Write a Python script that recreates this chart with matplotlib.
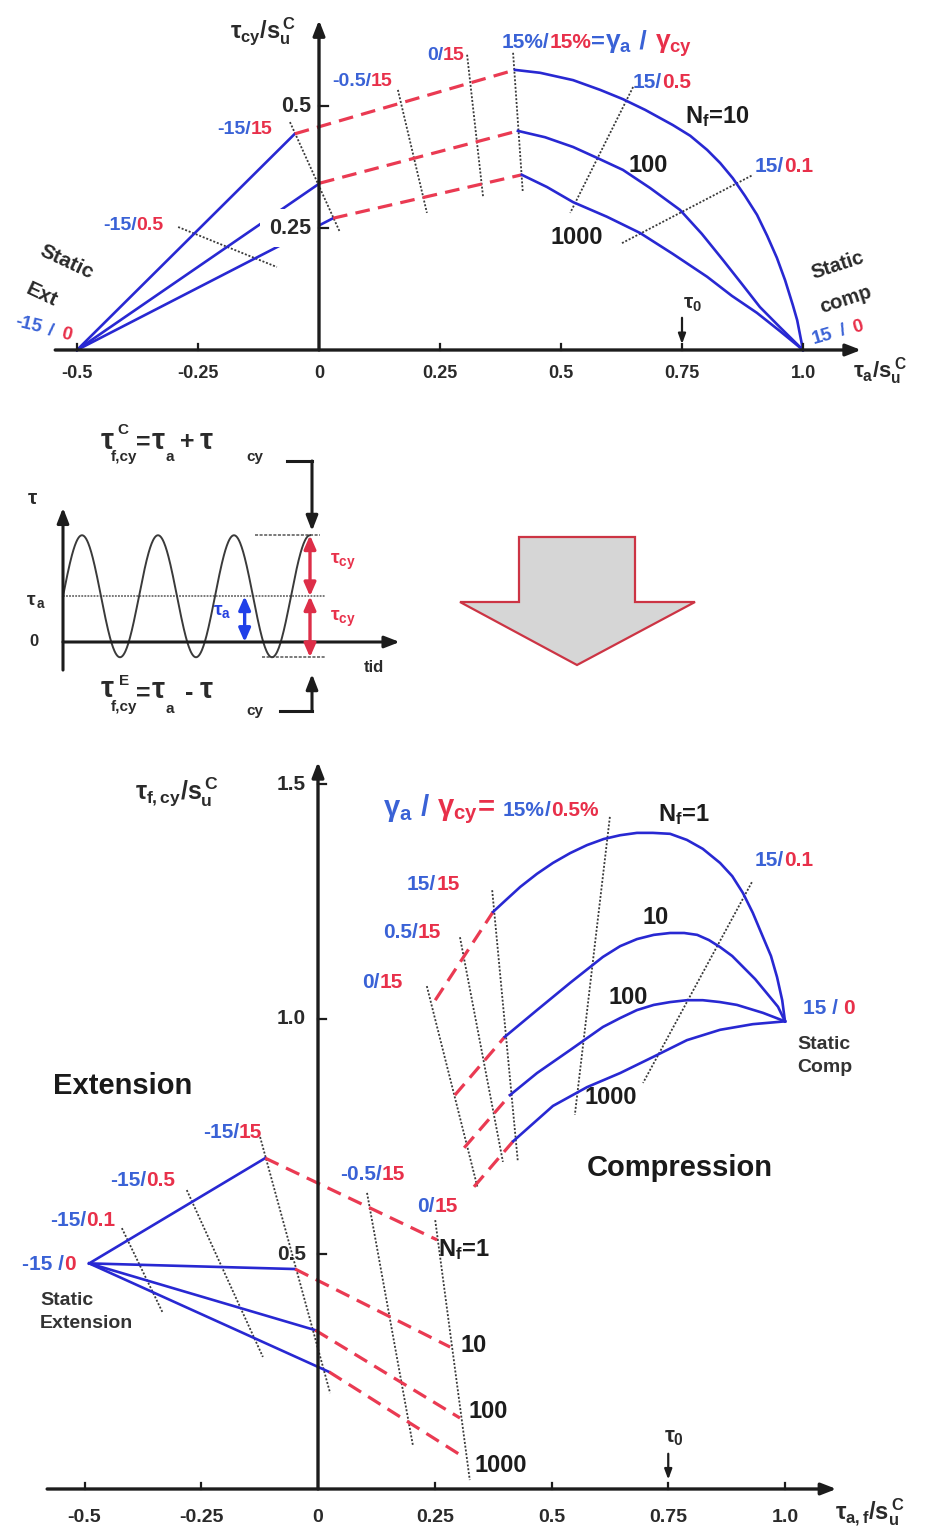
import numpy as np
import matplotlib
matplotlib.use("Agg")
import matplotlib.pyplot as plt
from matplotlib import transforms as mtransforms
from matplotlib.offsetbox import TextArea, HPacker, AnnotationBbox
from matplotlib.patches import Polygon

# ---------------- data ----------------
# Upper diagram: cyclic shear strength tau_cy/su^C against average stress tau_a/su^C
top_static_ext = [-0.5, 0.0]
top_static_comp = [1.0, 0.0]
top_cycles = [10, 100, 1000]
top_ext15_x = [-0.050, 0.002, 0.029]      # gamma_a/gamma_cy = -15/15
top_ext15_y = [0.443, 0.342, 0.270]
top_comp15_x = [0.405, 0.411, 0.419]      # gamma_a/gamma_cy = 15/15
top_comp15_y = [0.574, 0.449, 0.359]
top_n10_x = [0.405, 0.457, 0.525, 0.581, 0.628, 0.674, 0.731, 0.767, 0.802, 0.829,
             0.855, 0.880, 0.905, 0.926, 0.946, 0.963, 0.979, 0.988, 1.0]
top_n10_y = [0.574, 0.568, 0.553, 0.533, 0.514, 0.492, 0.461, 0.439, 0.410, 0.383,
             0.352, 0.316, 0.277, 0.234, 0.189, 0.143, 0.092, 0.061, 0.0]
top_n100_x = [0.411, 0.467, 0.525, 0.576, 0.628, 0.684, 0.746, 0.791, 0.835, 0.874,
              0.911, 0.952, 1.0]
top_n100_y = [0.449, 0.436, 0.416, 0.393, 0.369, 0.332, 0.287, 0.238, 0.184, 0.135,
              0.088, 0.047, 0.0]
top_n1000_x = [0.419, 0.471, 0.525, 0.595, 0.663, 0.731, 0.802, 0.853, 0.905, 0.952, 1.0]
top_n1000_y = [0.359, 0.334, 0.303, 0.273, 0.240, 0.197, 0.150, 0.111, 0.076, 0.039, 0.0]
# strain contours: -15/15, -15/0.5, -0.5/15, 0/15, 15/15, 15/0.5, 15/0.1
top_contour_x0 = [-0.060, -0.291, 0.163, 0.306, 0.401, 0.649, 0.626]
top_contour_y0 = [0.467, 0.252, 0.533, 0.605, 0.609, 0.539, 0.219]
top_contour_x1 = [0.043, -0.087, 0.223, 0.339, 0.421, 0.519, 0.897]
top_contour_y1 = [0.242, 0.170, 0.281, 0.314, 0.324, 0.281, 0.359]
top_xticks = [-0.5, -0.25, 0, 0.25, 0.5, 0.75, 1.0]
top_xticklabels = ['-0.5', '-0.25', '0', '0.25', '0.5', '0.75', '1.0']
top_yticks = [0.25, 0.5]
top_yticklabels = ['0.25', '0.5']
tau0 = 0.75

# Cyclic load history
sig_mean = 0.75      # tau_a
sig_amp = 1.0        # tau_cy
sig_cycles = 3.25

# Lower diagram: tau_f,cy/su^C against tau_a,f/su^C
bot_static_ext = [-0.49, 0.48]
bot_static_comp = [1.0, 0.995]
bot_cycles = [1, 10, 100, 1000]
bot_ext15_x = [-0.113, -0.049, -0.006, 0.024]
bot_ext15_y = [0.704, 0.468, 0.338, 0.249]
bot_ext0_x = [0.255, 0.283, 0.304, 0.315]
bot_ext0_y = [0.530, 0.302, 0.151, 0.066]
bot_comp0_x = [0.251, 0.293, 0.313, 0.334]
bot_comp0_y = [1.040, 0.838, 0.726, 0.643]
bot_n1_x = [0.375, 0.400, 0.433, 0.469, 0.503, 0.540, 0.576, 0.612, 0.647, 0.683, 0.717,
            0.754, 0.790, 0.824, 0.861, 0.887, 0.910, 0.931, 0.953, 0.970, 0.983, 0.994, 1.0]
bot_n1_y = [1.228, 1.251, 1.281, 1.309, 1.332, 1.353, 1.370, 1.383, 1.391, 1.396, 1.396,
            1.394, 1.381, 1.362, 1.332, 1.304, 1.268, 1.226, 1.174, 1.134, 1.089, 1.040, 0.995]
bot_n10_x = [0.400, 0.469, 0.540, 0.610, 0.647, 0.683, 0.719, 0.754, 0.784, 0.812, 0.837,
             0.861, 0.887, 0.910, 0.936, 0.961, 0.985, 1.0]
bot_n10_y = [0.962, 1.019, 1.077, 1.132, 1.155, 1.170, 1.179, 1.183, 1.183, 1.179, 1.168,
             1.153, 1.134, 1.111, 1.085, 1.055, 1.026, 0.995]
bot_n100_x = [0.411, 0.469, 0.540, 0.610, 0.647, 0.683, 0.719, 0.754, 0.790, 0.824, 0.861,
              0.897, 0.953, 1.0]
bot_n100_y = [0.838, 0.885, 0.934, 0.983, 1.002, 1.019, 1.030, 1.036, 1.040, 1.040, 1.036,
              1.030, 1.013, 0.995]
bot_n1000_x = [0.418, 0.503, 0.576, 0.647, 0.717, 0.790, 0.861, 0.931, 1.0]
bot_n1000_y = [0.740, 0.815, 0.855, 0.885, 0.919, 0.955, 0.977, 0.989, 0.995]
bot_contour_x0 = [-0.420, -0.281, -0.124, 0.105, 0.251, 0.233, 0.304, 0.373, 0.625, 0.929]
bot_contour_y0 = [0.555, 0.636, 0.749, 0.630, 0.572, 1.070, 1.174, 1.274, 1.430, 1.291]
bot_contour_x1 = [-0.332, -0.118, 0.026, 0.203, 0.325, 0.342, 0.396, 0.428, 0.550, 0.696]
bot_contour_y1 = [0.374, 0.281, 0.204, 0.094, 0.019, 0.640, 0.696, 0.696, 0.796, 0.864]
bot_xticks = [-0.5, -0.25, 0, 0.25, 0.5, 0.75, 1.0]
bot_xticklabels = ['-0.5', '-0.25', '0', '0.25', '0.5', '0.75', '1.0']
bot_yticks = [0.5, 1.0, 1.5]
bot_yticklabels = ['0.5', '1.0', '1.5']

# ---------------- style ----------------
plt.rcParams['font.family'] = ['Liberation Sans', 'DejaVu Sans']
plt.rcParams['font.weight'] = 'bold'
plt.rcParams['mathtext.fontset'] = 'custom'
for key in ('rm', 'it', 'bf', 'sf'):
    plt.rcParams['mathtext.' + key] = 'Liberation Sans:bold'

BLUE = '#2828d2'
RED = '#ea3a52'
TBLUE = '#3a62d6'
TRED = '#e8304a'
INK = '#1c1c1c'
DOT = '#3a3a3a'
DASH = (0, (4.6, 2.6))
DOTS = (0, (1.1, 1.0))

W, H = 934, 1538
fig = plt.figure(figsize=(W / 100, H / 100), dpi=100)
fig.patch.set_facecolor('white')
# layout transform in pixels, origin at the top-left corner
PX = mtransforms.Affine2D().scale(1 / W, -1 / H).translate(0, 1) + fig.transFigure


def panel(top, bottom, x0, y0, sx, sy):
    ax = fig.add_axes([0, 1 - bottom / H, 1, (bottom - top) / H])
    ax.set_xlim((0 - x0) / sx, (W - x0) / sx)
    ax.set_ylim((y0 - bottom) / sy, (y0 - top) / sy)
    ax.axis('off')
    return ax


def arrow(ax, xy0, xy1, lw=2.4, color=INK, style='-|>,head_length=0.9,head_width=0.35',
          transform=None, z=4):
    kw = {}
    if transform is not None:
        kw = dict(xycoords=transform, textcoords=transform)
    ax.annotate('', xy=xy1, xytext=xy0, annotation_clip=False,
                arrowprops=dict(arrowstyle=style, lw=lw, color=color,
                                shrinkA=0, shrinkB=0), zorder=z, **kw)


def ctext(ax, parts, x, y, size=13):
    """Multi-coloured label, anchored at its left-centre (layout pixels)."""
    areas = []
    for p in parts:
        s, c = p[0], p[1]
        fs = p[2] if len(p) > 2 else size
        areas.append(TextArea(s, textprops=dict(color=c, fontsize=fs, fontweight='bold')))
    box = HPacker(children=areas, align='baseline', pad=0, sep=0)
    ab = AnnotationBbox(box, (x, y), xycoords=PX, box_alignment=(0, 0.5),
                        frameon=False, pad=0, annotation_clip=False, zorder=6)
    ax.add_artist(ab)


def ptext(ax, s, x, y, size=13, color=INK, ha='center', va='center', rot=0, **kw):
    return ax.text(x, y, s, transform=PX, fontsize=size, color=color, ha=ha, va=va,
                   rotation=rot, rotation_mode='anchor', fontweight='bold', zorder=6, **kw)


# =============== upper diagram ===============
ax1 = panel(0, 420, 319, 350, 484, 488)

for xe, ye, xc, yc in zip(top_ext15_x, top_ext15_y, top_comp15_x, top_comp15_y):
    ax1.plot([top_static_ext[0], xe], [top_static_ext[1], ye], color=BLUE, lw=1.9, zorder=3)
    ax1.plot([xe, xc], [ye, yc], color=RED, lw=2.3, ls=DASH, zorder=3)
for cx, cy in ((top_n10_x, top_n10_y), (top_n100_x, top_n100_y), (top_n1000_x, top_n1000_y)):
    ax1.plot(cx, cy, color=BLUE, lw=1.9, zorder=3, solid_joinstyle='round')
for x0, y0, x1, y1 in zip(top_contour_x0, top_contour_y0, top_contour_x1, top_contour_y1):
    ax1.plot([x0, x1], [y0, y1], color=DOT, lw=1.3, ls=DOTS, zorder=2)

# axes with arrows
arrow(ax1, (-0.545, 0), (1.12, 0), z=5)
arrow(ax1, (0, 0), (0, 0.676), z=5)
tick_dx = mtransforms.offset_copy(ax1.transData, fig=fig, y=-23, units='dots')
for xv, lab in zip(top_xticks, top_xticklabels):
    if xv != 0:
        ax1.plot([xv, xv], [0, 0.012], color=INK, lw=1.6, zorder=5)
    ax1.text(xv, 0, lab, transform=tick_dx, ha='center', va='center', fontsize=13,
             color='#2a2a2a', fontweight='bold')
tick_dy = mtransforms.offset_copy(ax1.transData, fig=fig, x=-8, units='dots')
for yv, lab in zip(top_yticks, top_yticklabels):
    ax1.plot([0, 0.018], [yv, yv], color=INK, lw=1.6, zorder=5)
    t = ax1.text(0, yv, lab, transform=tick_dy, ha='right', va='center', fontsize=15.5,
                 color='#2a2a2a', fontweight='bold', zorder=4)
    if lab == '0.25':
        t.set_bbox(dict(facecolor='white', edgecolor='none', pad=6))

ptext(ax1, r'$\tau_{cy}/s_{u}^{\,C}$', 263, 31, size=17, color='#2a2a2a')
ptext(ax1, r'$\tau_{a}/s_{u}^{\,C}$', 880, 371, size=16, color='#2a2a2a')

# tau_0 marker
ax1.annotate('', xy=(tau0, 0.012), xytext=(tau0, 0.066), annotation_clip=False,
             arrowprops=dict(arrowstyle='-|>,head_length=0.6,head_width=0.22', lw=1.6,
                             color=INK, shrinkA=0, shrinkB=0))
ptext(ax1, r'$\tau_{0}$', 692, 304, size=15, color='#2a2a2a')

# labels
ptext(ax1, 'Static', 67, 262, size=15, rot=-25, color='#2a2a2a')
ptext(ax1, 'Ext', 42, 295, size=15, rot=-25, color='#2a2a2a')
ptext(ax1, '-15', 28, 325, size=13.5, rot=-14, color=TBLUE)
ptext(ax1, '/', 50, 331, size=13.5, rot=-14, color=TBLUE)
ptext(ax1, '0', 66, 335, size=13.5, rot=-14, color=TRED)
ptext(ax1, 'Static', 838, 265, size=14.5, rot=18, color='#2a2a2a')
ptext(ax1, 'comp', 846, 300, size=14.5, rot=18, color='#2a2a2a')
ptext(ax1, '15', 823, 337, size=13.5, rot=16, color=TBLUE)
ptext(ax1, '/', 843, 331, size=13.5, rot=16, color=TBLUE)
ptext(ax1, '0', 858, 327, size=13.5, rot=16, color=TRED)

ctext(ax1, [('-15/', TBLUE), ('15', TRED)], 217, 129, 14)
ctext(ax1, [('-15/', TBLUE), ('0.5', TRED)], 103, 225, 14)
ctext(ax1, [('-0.5/', TBLUE), ('15', TRED)], 332, 82, 14)
ctext(ax1, [('0/', TBLUE), ('15', TRED)], 427, 55, 14)
ctext(ax1, [('15%/', TBLUE), ('15%', TRED), ('=', TBLUE, 17), (r'$\gamma_{a}$', TBLUE, 19),
            (' / ', TBLUE, 19), (r'$\gamma_{cy}$', TRED, 19)], 502, 44, 15)
ctext(ax1, [('15/', TBLUE), ('0.5', TRED)], 633, 82, 15)
ctext(ax1, [('15/', TBLUE), ('0.1', TRED)], 755, 167, 15)
ptext(ax1, r'N$_{f}$=10', 685, 117, size=17, ha='left')
ptext(ax1, '100', 648, 165, size=17)
ptext(ax1, '1000', 577, 238, size=17)

# =============== load history sketch ===============
ax2 = panel(420, 740, 63, 642, 76, 61)
t = np.linspace(0, sig_cycles, 500)
ax2.plot(t, sig_mean + sig_amp * np.sin(2 * np.pi * t), color='#3a3a3a', lw=1.4, zorder=3)
arrow(ax2, (0, -0.46), (0, 2.2), lw=2.2)
arrow(ax2, (0, 0), (4.43, 0), lw=2.2)
ax2.plot([0, 3.45], [sig_mean, sig_mean], color='#555555', lw=1.1, ls=(0, (1.2, 0.8)), zorder=2)
ax2.plot([2.53, 3.38], [sig_mean + sig_amp] * 2, color='#555555', lw=1.1, ls=(0, (2, 1)), zorder=2)
ax2.plot([2.62, 3.45], [sig_mean - sig_amp] * 2, color='#555555', lw=1.1, ls=(0, (2, 1)), zorder=2)
dbl = '<|-|>,head_length=0.8,head_width=0.35'
arrow(ax2, (sig_cycles, sig_mean), (sig_cycles, sig_mean + sig_amp), lw=2.4, color='#dd2e48', style=dbl)
arrow(ax2, (sig_cycles, sig_mean - sig_amp), (sig_cycles, sig_mean), lw=2.4, color='#dd2e48', style=dbl)
arrow(ax2, (2.39, 0), (2.39, sig_mean), lw=2.4, color='#2040e8', style=dbl)

ptext(ax2, r'$\tau$', 32, 499, size=15, color='#2a2a2a')
ptext(ax2, r'$\tau_{\,a}$', 36, 601, size=14, color='#2a2a2a')
ptext(ax2, '0', 34, 642, size=12, color='#2a2a2a')
ptext(ax2, r'$\tau_{a}$', 222, 612, size=14, color='#2440e0')
ptext(ax2, r'$\tau_{cy}$', 343, 562, size=14, color=TRED)
ptext(ax2, r'$\tau_{cy}$', 343, 619, size=14, color=TRED)
ptext(ax2, 'tid', 374, 667, size=12, color='#2a2a2a')

# formula strings with low-set subscripts
for s, x, y, fs in [(r'$\tau$', 107, 441, 21), ('C', 123, 430, 11), ('f,cy', 124, 457, 11),
                    ('=', 143, 443, 18), (r'$\tau$', 158, 441, 21), ('a', 170, 457, 11),
                    ('+', 187, 442, 18), (r'$\tau$', 206, 441, 21), ('cy', 255, 457, 11)]:
    ptext(ax2, s, x, y, size=fs, color='#2a2a2a')
for s, x, y, fs in [(r'$\tau$', 107, 689, 21), ('E', 124, 681, 11), ('f,cy', 124, 707, 11),
                    ('=', 143, 694, 18), (r'$\tau$', 158, 690, 21), ('a', 170, 709, 11),
                    ('-', 189, 693, 18), (r'$\tau$', 206, 690, 21), ('cy', 255, 711, 11)]:
    ptext(ax2, s, x, y, size=fs, color='#2a2a2a')
ax2.plot([287, 312], [461, 461], transform=PX, color=INK, lw=2.2, clip_on=False)
arrow(ax2, (312, 461), (312, 531), lw=2.2, transform=PX)
ax2.plot([280, 312], [711, 711], transform=PX, color=INK, lw=2.2, clip_on=False)
arrow(ax2, (312, 711), (312, 674), lw=2.2, transform=PX)

big_arrow = Polygon([(519, 537), (635, 537), (635, 602), (695, 602), (577, 665),
                     (460, 602), (519, 602)], closed=True, transform=PX,
                    facecolor='#d6d6d6', edgecolor='#cc3444', lw=1.6, clip_on=False, zorder=3)
ax2.add_patch(big_arrow)

# =============== lower diagram ===============
ax3 = panel(740, 1538, 318, 1489, 467, 470)

for xs, xe, ye, x0, y0 in zip([bot_static_ext[0]] * 4, bot_ext15_x, bot_ext15_y, bot_ext0_x, bot_ext0_y):
    ax3.plot([xs, xe], [bot_static_ext[1], ye], color=BLUE, lw=1.9, zorder=3)
    ax3.plot([xe, x0], [ye, y0], color=RED, lw=2.3, ls=DASH, zorder=3)
curves = [(bot_n1_x, bot_n1_y), (bot_n10_x, bot_n10_y), (bot_n100_x, bot_n100_y),
          (bot_n1000_x, bot_n1000_y)]
for (cx, cy), x0, y0 in zip(curves, bot_comp0_x, bot_comp0_y):
    ax3.plot([x0, cx[0]], [y0, cy[0]], color=RED, lw=2.3, ls=DASH, zorder=3)
    ax3.plot(cx, cy, color=BLUE, lw=1.9, zorder=3, solid_joinstyle='round')
for x0, y0, x1, y1 in zip(bot_contour_x0, bot_contour_y0, bot_contour_x1, bot_contour_y1):
    ax3.plot([x0, x1], [y0, y1], color=DOT, lw=1.3, ls=DOTS, zorder=2)

arrow(ax3, (-0.58, 0), (1.11, 0))
arrow(ax3, (0, 0), (0, 1.547))
tick_bx = mtransforms.offset_copy(ax3.transData, fig=fig, y=-28, units='dots')
for xv, lab in zip(bot_xticks, bot_xticklabels):
    if xv != 0:
        ax3.plot([xv, xv], [0, 0.012], color=INK, lw=1.6, zorder=4)
    ax3.text(xv, 0, lab, transform=tick_bx, ha='center', va='center', fontsize=14,
             color='#2a2a2a', fontweight='bold')
tick_by = mtransforms.offset_copy(ax3.transData, fig=fig, x=-12, units='dots')
for yv, lab in zip(bot_yticks, bot_yticklabels):
    ax3.plot([0, 0.018], [yv, yv], color=INK, lw=1.6, zorder=4)
    ax3.text(0, yv, lab, transform=tick_by, ha='right', va='center', fontsize=15,
             color='#2a2a2a', fontweight='bold', zorder=5)

ptext(ax3, r'$\tau_{f,cy}/s_{u}^{\,C}$', 177, 792, size=18, color='#2a2a2a')
ptext(ax3, r'$\tau_{a,f}/s_{u}^{\,C}$', 870, 1512, size=17, color='#2a2a2a')
ax3.annotate('', xy=(tau0, 0.02), xytext=(tau0, 0.075), annotation_clip=False,
             arrowprops=dict(arrowstyle='-|>,head_length=0.6,head_width=0.22', lw=1.6,
                             color=INK, shrinkA=0, shrinkB=0))
ptext(ax3, r'$\tau_{0}$', 674, 1437, size=16, color='#2a2a2a')

ptext(ax3, 'Extension', 123, 1086, size=21, color='#1a1a1a')
ptext(ax3, 'Compression', 680, 1168, size=21, color='#1a1a1a')
ptext(ax3, 'Static\nExtension', 40, 1312, size=14, ha='left', color='#333333', linespacing=1.45)
ptext(ax3, 'Static\nComp', 797, 1056, size=14, ha='left', color='#333333', linespacing=1.45)

ctext(ax3, [('-15/', TBLUE), ('15', TRED)], 203, 1132, 15)
ctext(ax3, [('-15/', TBLUE), ('0.5', TRED)], 110, 1181, 15)
ctext(ax3, [('-15/', TBLUE), ('0.1', TRED)], 50, 1221, 15)
ctext(ax3, [('-15 /', TBLUE), ('0', TRED)], 22, 1264, 15)
ctext(ax3, [('-0.5/', TBLUE), ('15', TRED)], 340, 1175, 15)
ctext(ax3, [('0/', TBLUE), ('15', TRED)], 417, 1207, 15)
ctext(ax3, [(r'$\gamma_{a}$', TBLUE, 21), (' / ', TBLUE, 21), (r'$\gamma_{cy}$', TRED, 21),
            ('= ', TRED, 21), ('15%', TBLUE, 15), ('/', TBLUE, 15), ('0.5%', TRED, 15)],
      383, 810, 15)
ctext(ax3, [('15/', TBLUE), ('0.1', TRED)], 755, 861, 15)
ctext(ax3, [('15/', TBLUE), ('15', TRED)], 407, 885, 15)
ctext(ax3, [('0.5/', TBLUE), ('15', TRED)], 383, 932, 15)
ctext(ax3, [('0/', TBLUE), ('15', TRED)], 362, 982, 15)
ctext(ax3, [('15 / ', TBLUE), ('0', TRED)], 803, 1008, 15)
ptext(ax3, r'N$_{f}$=1', 658, 815, size=17, ha='left')
ptext(ax3, '10', 642, 917, size=17, ha='left')
ptext(ax3, '100', 608, 998, size=17, ha='left')
ptext(ax3, '1000', 585, 1097, size=17, ha='left')
ptext(ax3, r'N$_{f}$=1', 438, 1250, size=17, ha='left')
ptext(ax3, '10', 460, 1346, size=17, ha='left')
ptext(ax3, '100', 468, 1411, size=17, ha='left')
ptext(ax3, '1000', 475, 1466, size=17, ha='left')

fig.savefig('out.png', dpi=100, facecolor='white')
